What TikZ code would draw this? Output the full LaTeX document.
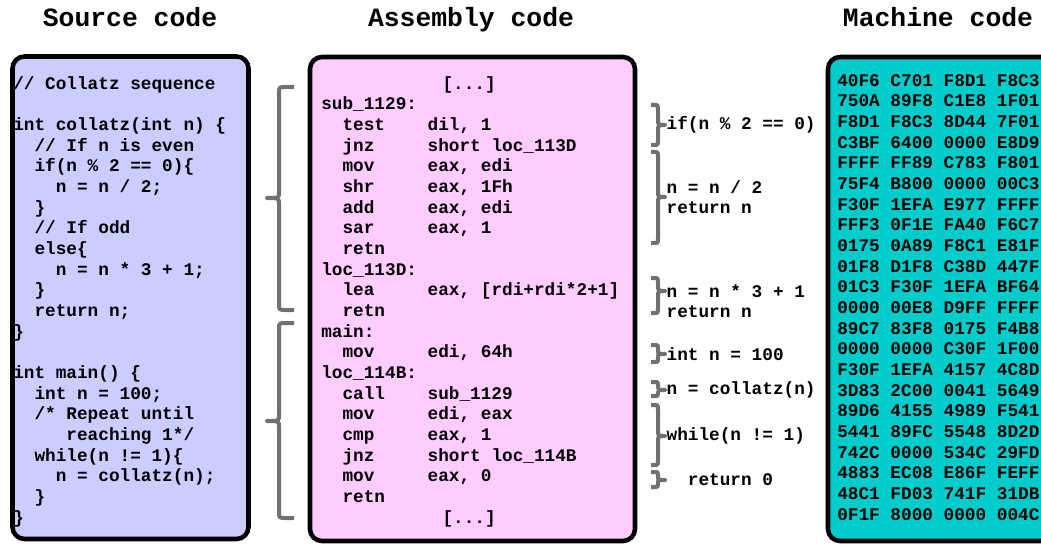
\documentclass[tikz,border=0pt]{standalone}
\usepackage{fontspec}
\setmonofont{Liberation Mono}
\usetikzlibrary{positioning}
\definecolor{srcFill}{RGB}{204,204,255}
\definecolor{asmFill}{RGB}{255,204,255}
\definecolor{hexFill}{RGB}{0,204,204}
\definecolor{braceGray}{RGB}{112,112,112}
% indent by a number of character cells
\newcommand{\ind}[1]{\hspace*{#1\dimexpr 0.6em\relax}}
% curly brace: arm x, top, tip y, bottom, spine dx, tip dx, name of tip
\newcommand{\codebrace}[7]{%
  \pgfmathsetmacro{\bracerad}{min(6,(#4-#2)/5)}
  \pgfmathsetmacro{\spx}{#1+(#5)}
  \pgfmathsetmacro{\armx}{#1+0.5*(#5)}
  \pgfmathsetmacro{\tipx}{#1+(#6)}
  \draw[brace line] (#1,#2) -- (\armx,#2) .. controls (\spx,#2) .. (\spx,#2+\bracerad)
    -- (\spx,#3-\bracerad) .. controls (\spx,#3) .. (\tipx,#3)
    .. controls (\spx,#3) .. (\spx,#3+\bracerad)
    -- (\spx,#4-\bracerad) .. controls (\spx,#4) .. (\armx,#4) -- (#1,#4);
  \coordinate (#7) at (\tipx,#3);
}

\begin{document}
\begin{tikzpicture}[x=0.75pt,y=-0.75pt,
  title/.style={font=\ttfamily\bfseries\fontsize{19.8}{24}\selectfont,inner sep=0pt,anchor=base},
  code/.style={font=\ttfamily\bfseries\fontsize{13.3}{15.5}\selectfont,align=left,inner sep=0pt,anchor=north west},
  note/.style={font=\ttfamily\bfseries\fontsize{13.3}{15.5}\selectfont,align=left,inner sep=0pt,anchor=west},
  panel/.style={draw=black,line width=3.4pt,rounded corners=9pt},
  brace line/.style={draw=braceGray,line width=3pt,line join=round}]

\path[use as bounding box] (0,0) rectangle (1041,545);
\clip (0,0) rectangle (1041,545);

% The three panels
\draw[panel,fill=srcFill] (12.5,56.5) rectangle (248.5,539);
\draw[panel,fill=asmFill] (310,57) rectangle (635,541);
\draw[panel,fill=hexFill] (828,57) rectangle (1120,541);

% Titles
\node[title] (srcTitle) at (130,27) {Source code};
\node[title] (asmTitle) at (471,27) {Assembly code};
\node[title] (hexTitle) at (938,27) {Machine code};

% Source code
\node[code] (src) at (13,76) {// Collatz sequence\\
\mbox{}\\
int collatz(int n) \{\\
\ind{2}// If n is even\\
\ind{2}if(n \% 2 == 0)\{\\
\ind{4}n = n / 2;\\
\ind{2}\}\\
\ind{2}// If odd\\
\ind{2}else\{\\
\ind{4}n = n * 3 + 1;\\
\ind{2}\}\\
\ind{2}return n;\\
\}\\
\mbox{}\\
int main() \{\\
\ind{2}int n = 100;\\
\ind{2}/* Repeat until\\
\ind{5}reaching 1*/\\
\ind{2}while(n != 1)\{\\
\ind{4}n = collatz(n);\\
\ind{2}\}\\
\}};

% Assembly code
\node[code] (asm) at (321,76) {\ind{11.4}[...]\\
sub\_1129:\\
\ind{2}test\ind{4}dil, 1\\
\ind{2}jnz\ind{5}short loc\_113D\\
\ind{2}mov\ind{5}eax, edi\\
\ind{2}shr\ind{5}eax, 1Fh\\
\ind{2}add\ind{5}eax, edi\\
\ind{2}sar\ind{5}eax, 1\\
\ind{2}retn\\
loc\_113D:\\
\ind{2}lea\ind{5}eax, [rdi+rdi*2+1]\\
\ind{2}retn\\
main:\\
\ind{2}mov\ind{5}edi, 64h\\
loc\_114B:\\
\ind{2}call\ind{4}sub\_1129\\
\ind{2}mov\ind{5}edi, eax\\
\ind{2}cmp\ind{5}eax, 1\\
\ind{2}jnz\ind{5}short loc\_114B\\
\ind{2}mov\ind{5}eax, 0\\
\ind{2}retn\\
\ind{11.4}[...]};

% Machine code
\node[code] (hex) at (837,74) {40F6 C701 F8D1 F8C3\\
750A 89F8 C1E8 1F01\\
F8D1 F8C3 8D44 7F01\\
C3BF 6400 0000 E8D9\\
FFFF FF89 C783 F801\\
75F4 B800 0000 00C3\\
F30F 1EFA E977 FFFF\\
FFF3 0F1E FA40 F6C7\\
0175 0A89 F8C1 E81F\\
01F8 D1F8 C38D 447F\\
01C3 F30F 1EFA BF64\\
0000 00E8 D9FF FFFF\\
89C7 83F8 0175 F4B8\\
0000 0000 C30F 1F00\\
F30F 1EFA 4157 4C8D\\
3D83 2C00 0041 5649\\
89D6 4155 4989 F541\\
5441 89FC 5548 8D2D\\
742C 0000 534C 29FD\\
4883 EC08 E86F FEFF\\
48C1 FD03 741F 31DB\\
0F1F 8000 0000 004C};

% Braces between source and assembly
\codebrace{294}{87}{198}{310}{-15}{-27}{funTip}
\codebrace{294}{323}{421}{518}{-15}{-27}{mainTip}

% Braces between assembly and notes
\codebrace{651}{105}{125}{145}{7}{14}{ifTip}
\codebrace{651}{152}{197}{243}{7}{14}{evenTip}
\codebrace{651}{278}{291}{313}{7}{14}{oddTip}
\codebrace{651}{345}{354}{362}{7}{14}{initTip}
\codebrace{651}{382}{390}{396}{7}{14}{callTip}
\codebrace{651}{405}{436}{465}{7}{14}{whileTip}
\codebrace{651}{472}{480}{487}{7}{14}{retTip}

% The notes
\node[note,right=1pt of ifTip] (ifNote) {if(n \% 2 == 0)};
\node[note,right=1pt of evenTip] (evenNote) {n = n / 2\\return n};
\node[note,right=1pt of oddTip,yshift=-7.5pt] (oddNote) {n = n * 3 + 1\\return n};
\node[note,right=1pt of initTip] (initNote) {int n = 100};
\node[note,right=1pt of callTip] (callNote) {n = collatz(n)};
\node[note,right=1pt of whileTip] (whileNote) {while(n != 1)};
\node[note,right=1pt of retTip] (retNote) {\ind{2}return 0};

\end{tikzpicture}
\end{document}
